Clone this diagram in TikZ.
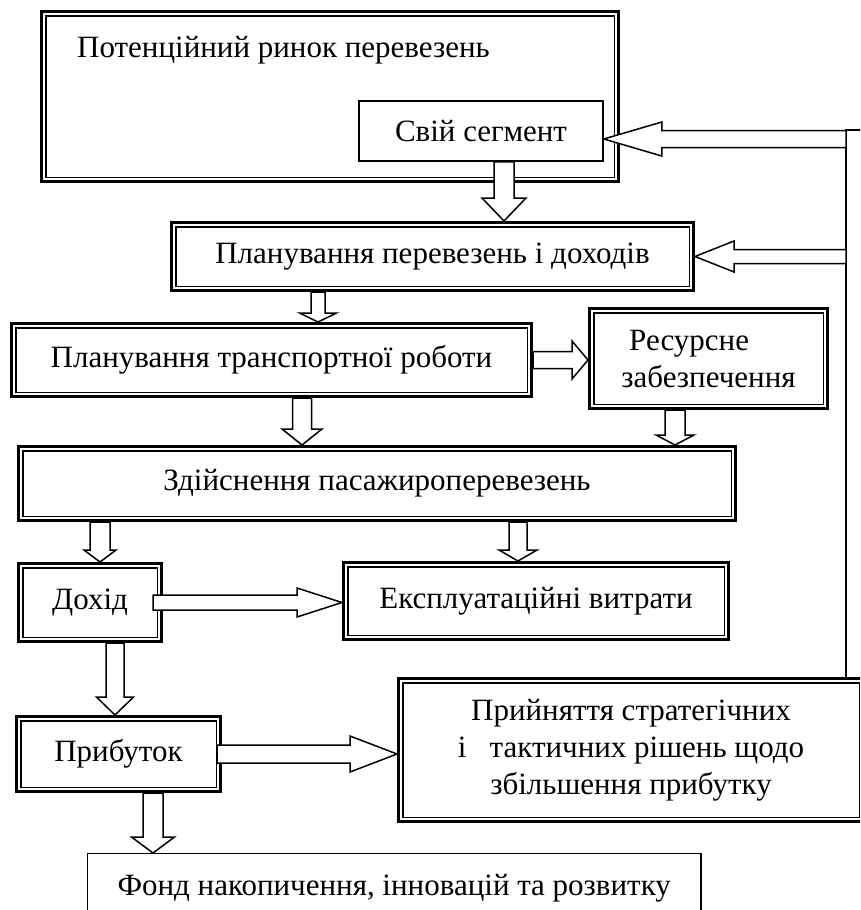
\documentclass[tikz,border=0pt]{standalone}
\usepackage{fontspec}
\setmainfont{Liberation Serif}
\usetikzlibrary{calc}
\begin{document}
\begin{tikzpicture}[x=1pt,y=-1pt,
  every node/.style={font=\fontsize{31}{37}\selectfont},
  dbox/.style={draw, line width=3pt, inner sep=0pt},
  sbox/.style={draw, line width=1.5pt, inner sep=0pt},
  barrow/.style n args={3}{draw, fill=white, line width=1.5pt, line join=miter,
    to path={let \p1=(\tikztostart), \p2=(\tikztotarget), \p3=($(\p2)!#3!(\p1)$) in
      ($(\p1)!#1!90:(\p2)$) -- ($(\p3)!#1!90:(\p2)$) -- ($(\p3)!#2!90:(\p2)$) -- (\p2)
      -- ($(\p3)!#2!-90:(\p2)$) -- ($(\p3)!#1!-90:(\p2)$) -- ($(\p1)!#1!-90:(\p2)$) -- cycle}}]
\clip (0,0) rectangle (860,910);
\node[dbox, minimum width=577pt, minimum height=170pt,
  label={[anchor=base west, inner sep=0pt, xshift=37pt, yshift=-47pt, font=\fontsize{31}{37}\selectfont]north west:Потенційний ринок перевезень}] (market) at (330,96.5) {};
\node[sbox, minimum width=244pt, minimum height=60pt] (seg) at (481,131) {Свій сегмент};
\node[dbox, minimum width=522pt, minimum height=68pt] (plan1) at (432.5,256.5) {Планування перевезень і доходів};
\node[dbox, minimum width=520pt, minimum height=73pt] (plan2) at (271.5,360) {Планування транспортної роботи};
\node[dbox, minimum width=238pt, minimum height=100pt, align=left] (res) at (708.5,358.5) {~Ресурсне\\забезпечення};
\node[dbox, minimum width=717pt, minimum height=74pt] (exec) at (377,483.5) {Здійснення пасажироперевезень};
\node[dbox, minimum width=143pt, minimum height=78pt] (doh) at (90,602.5) {Дохід};
\node[dbox, minimum width=385pt, minimum height=77pt] (exp) at (536,601) {Експлуатаційні витрати};
\node[dbox, minimum width=204pt, minimum height=75pt] (prib) at (118.5,754) {Прибуток};
\node[dbox, minimum width=465pt, minimum height=143pt, align=center] (dec) at (631,750)
  {Прийняття стратегічних\\і\ \ \ тактичних рішень щодо\\збільшення прибутку};
\node[draw, line width=1.2pt, anchor=north west, inner xsep=30pt, minimum height=70pt] (fond) at (87,853)
  {Фонд накопичення, інновацій та розвитку};
\foreach \bx in {market,plan1,plan2,res,exec,doh,exp,prib,dec}
  \draw[line width=1.5pt] ([shift={(5.75pt,-5.75pt)}]\bx.north west) rectangle ([shift={(-5.75pt,5.75pt)}]\bx.south east);

\coordinate (fbin) at (870,130);
\coordinate (fbtop) at (846,130);
\draw[line width=1.6pt] (fbin) -- (fbtop) -- (fbtop |- dec.north);

\draw[barrow={10pt}{22pt}{23pt}] ([xshift=23pt]seg.south) to ([xshift=23pt]seg.south |- plan1.north);
\draw[barrow={8.5pt}{17pt}{58pt}] ([yshift=-8pt]seg.east -| fbtop) to ([yshift=-8pt]seg.east);
\draw[barrow={7pt}{15.5pt}{39pt}] (plan1.east -| fbtop) to (plan1.east);
\draw[barrow={7pt}{18.5pt}{9pt}] ([xshift=-114.5pt]plan1.south) to ([xshift=-114.5pt]plan1.south |- plan2.north);
\draw[barrow={8.5pt}{19pt}{16pt}] (plan2.east) to (plan2.east -| res.west);
\draw[barrow={9.5pt}{20pt}{16pt}] ([xshift=30.5pt]plan2.south) to ([xshift=30.5pt]plan2.south |- exec.north);
\draw[barrow={10pt}{19pt}{10pt}] ([xshift=-33.5pt]res.south) to ([xshift=-33.5pt]res.south |- exec.north);
\draw[barrow={10pt}{16pt}{12pt}] ([xshift=10pt]doh.north |- exec.south) to ([xshift=10pt]doh.north);
\draw[barrow={9pt}{19pt}{11pt}] ([xshift=-18pt]exp.north |- exec.south) to ([xshift=-18pt]exp.north);
\draw[barrow={7.5pt}{14.5pt}{45pt}] ([xshift=-10pt]doh.east) to (doh.east -| exp.west);
\draw[barrow={9pt}{18.5pt}{18pt}] ([xshift=25pt]doh.south) to ([xshift=25pt]doh.south |- prib.north);
\draw[barrow={9pt}{18pt}{47pt}] ([xshift=-5pt]prib.east) to (prib.east -| dec.west);
\draw[barrow={10pt}{21.5pt}{16pt}] ([xshift=34.5pt]prib.south) to ([xshift=34.5pt]prib.south |- fond.north);
\end{tikzpicture}
\end{document}
